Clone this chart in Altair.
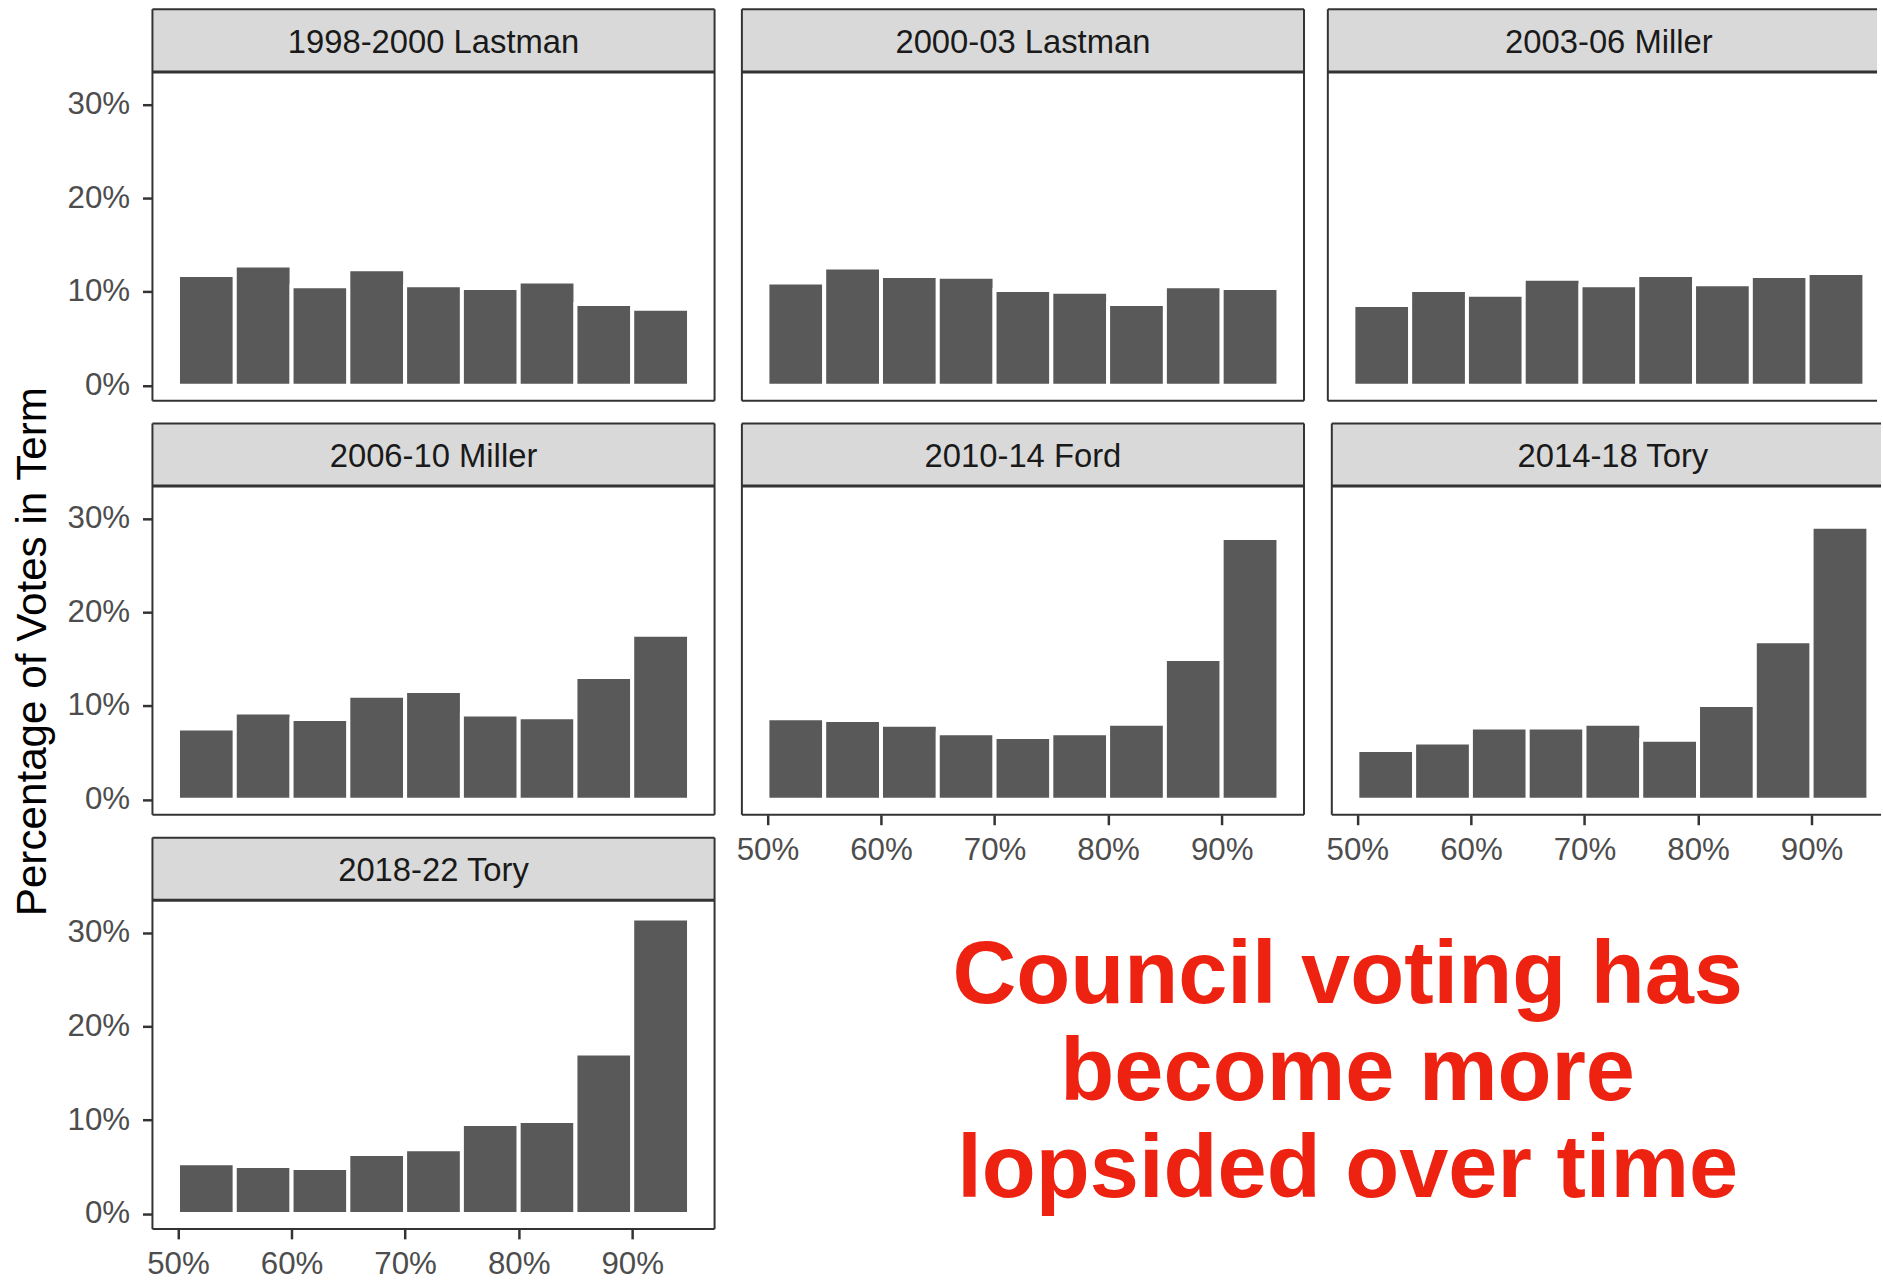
import altair as alt
import pandas as pd

# ---------------- data ----------------
terms = ["1998-2000 Lastman", "2000-03 Lastman", "2003-06 Miller",
         "2006-10 Miller", "2010-14 Ford", "2014-18 Tory", "2018-22 Tory"]
bin_starts = [50, 55, 60, 65, 70, 75, 80, 85, 90]
bin_width = 5
share_1998 = [11.8, 12.8, 10.6, 12.4, 10.7, 10.4, 11.1, 8.7, 8.2]
share_2000 = [11.0, 12.6, 11.7, 11.6, 10.2, 10.0, 8.7, 10.6, 10.4]
share_2003 = [8.6, 10.2, 9.7, 11.4, 10.7, 11.8, 10.8, 11.7, 12.0]
share_2006 = [7.6, 9.3, 8.6, 11.1, 11.6, 9.1, 8.8, 13.1, 17.6]
share_2010 = [8.7, 8.5, 8.0, 7.1, 6.7, 7.1, 8.1, 15.0, 27.9]
share_2014 = [5.3, 6.1, 7.7, 7.7, 8.1, 6.4, 10.1, 16.9, 29.1]
share_2018 = [5.4, 5.1, 4.9, 6.4, 6.9, 9.6, 9.9, 17.1, 31.5]
shares = dict(zip(terms, [share_1998, share_2000, share_2003, share_2006,
                          share_2010, share_2014, share_2018]))
x_ticks = [50, 60, 70, 80, 90]
y_ticks = [0, 10, 20, 30]
y_title = "Percentage of Votes in Term"
note_lines = ["Council voting has", "become more", "lopsided over time"]

# ---------------- styling ----------------
FONT = "Liberation Sans"
W, H, STRIP = 566, 394, 63
W3 = 553                      # right column is cut by the page edge
X_MIN, X_MAX = 47.75, 97.25
PX_PER_UNIT = W / (X_MAX - X_MIN)
BORDER = "#333333"


def panel(term, show_y, show_x, width=W, right_edge=True):
    df = pd.DataFrame({
        "start": bin_starts,
        "end": [b + bin_width for b in bin_starts],
        "share": shares[term],
    })
    x_scale = alt.Scale(domain=[X_MIN, X_MIN + width / PX_PER_UNIT], nice=False, zero=False)
    y_scale = alt.Scale(domain=[-1.6, 33.45], range=[H, STRIP], nice=False, zero=False)
    if show_x:
        xax = alt.Axis(values=x_ticks, labelExpr="datum.value + '%'", title=None,
                       domain=False, grid=False, tickSize=10, tickWidth=2.5,
                       tickColor=BORDER, labelColor="#4D4D4D", labelFont=FONT,
                       labelFontSize=31.5, labelPadding=10, labelFlush=False)
    else:
        xax = None
    if show_y:
        yax = alt.Axis(values=y_ticks, labelExpr="datum.value + '%'", title=None,
                       domain=False, grid=False, tickSize=10, tickWidth=2.5,
                       tickColor=BORDER, labelColor="#4D4D4D", labelFont=FONT,
                       labelFontSize=31.5, labelPadding=13, labelFlush=False)
    else:
        yax = None
    bars = alt.Chart(df).mark_rect(fill="#595959", stroke="white", strokeWidth=4).encode(
        x=alt.X("start:Q", scale=x_scale, axis=xax),
        x2="end:Q",
        y=alt.Y("share:Q", scale=y_scale, axis=yax),
        y2=alt.datum(0),
    )
    lab = pd.DataFrame({"term": [term]})
    strip = alt.Chart(lab).mark_rect(fill="#D9D9D9").encode(
        x=alt.value(0), x2=alt.value(width), y=alt.value(0), y2=alt.value(STRIP))
    text = alt.Chart(lab).mark_text(font=FONT, fontSize=33, color="#1A1A1A",
                                    baseline="alphabetic", align="center").encode(
        x=alt.value(W / 2), y=alt.value(44), text="term:N")
    base = alt.Chart(lab).mark_rule(stroke=BORDER, strokeWidth=2)
    edges = [
        base.encode(x=alt.value(0), x2=alt.value(width), y=alt.value(0)),
        base.encode(x=alt.value(0), x2=alt.value(width), y=alt.value(H)),
        alt.Chart(lab).mark_rule(stroke=BORDER, strokeWidth=3).encode(
            x=alt.value(0), x2=alt.value(width), y=alt.value(STRIP)),
        base.encode(x=alt.value(0), y=alt.value(0), y2=alt.value(H)),
    ]
    if right_edge:
        edges.append(base.encode(x=alt.value(width), y=alt.value(0), y2=alt.value(H)))
    return alt.layer(bars, strip, text, *edges).properties(width=width, height=H)


p = [panel(terms[0], True, False), panel(terms[1], False, False),
     panel(terms[2], False, False, width=W3, right_edge=False),
     panel(terms[3], True, False), panel(terms[4], False, True),
     panel(terms[5], False, True, width=W3, right_edge=False),
     panel(terms[6], True, True)]

title_df = pd.DataFrame({"t": [y_title]})
title_chart = alt.Chart(title_df).mark_text(
    angle=270, font=FONT, fontSize=42.5, color="black", baseline="alphabetic", align="center"
).encode(x=alt.value(46.4), y=alt.value(646.7), text="t:N").properties(width=56, height=1200)

note_df = pd.DataFrame({"note": ["\n".join(note_lines)]})
note = alt.Chart(note_df).mark_text(
    font=FONT, fontSize=89, fontWeight="bold", color="#EE2211", align="center",
    baseline="alphabetic", lineBreak="\n", lineHeight=97.5
).encode(x=alt.value(610), y=alt.value(117), text="note:N").properties(width=W + W3 + 22, height=330)

col1 = alt.vconcat(p[0], p[3], p[6], spacing=21)
right = alt.vconcat(alt.hconcat(p[1], p[2], spacing=20),
                    alt.hconcat(p[4], p[5], spacing=20),
                    note, spacing=21)
chart = alt.hconcat(alt.hconcat(title_chart, col1, spacing=10.5), right, spacing=20).properties(
    padding={"left": 0, "top": 4, "right": 0, "bottom": -3},
    background="white",
).configure_view(strokeWidth=0)

chart.save("out.html", embed_options={"renderer": "svg", "actions": False})
